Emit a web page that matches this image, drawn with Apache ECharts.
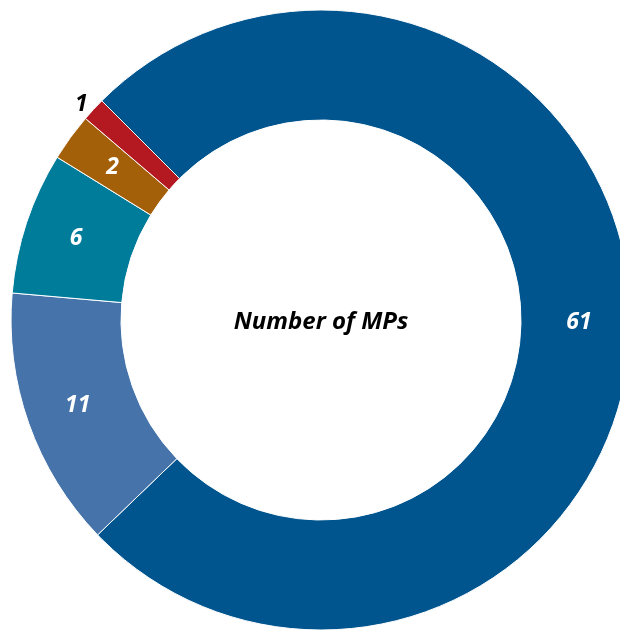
<!DOCTYPE html>
<html>
<head>
<meta charset="utf-8">
<style>
  html, body { margin: 0; padding: 0; background: #ffffff; }
  #chart { width: 620px; height: 633px; }
</style>
<script src="https://cdn.jsdelivr.net/npm/echarts@6/dist/echarts.min.js"></script>
</head>
<body>
<div id="chart"></div>
<script>
// Slices in clockwise order, starting from the large one
const categories = ['Group A', 'Group B', 'Group C', 'Group D', 'Group E'];
const values = [61, 11, 6, 2, 1];
const colors = ['#00558f', '#4674aa', '#007c9b', '#a45f09', '#b41821'];
const centerText = 'Number of MPs';

const fontFamily = '"Open Sans", "Noto Sans", sans-serif';
const ringCenter = [321, 320];

const data = categories.map((name, i) => {
  const item = { name: name, value: values[i], itemStyle: { color: colors[i] } };
  if (values[i] < 2) {
    // the smallest slice carries its number outside the ring
    item.label = { position: 'outside', color: '#000000', distanceToLabelLine: 0 };
    item.labelLine = { show: false, length: 8, length2: 0 };
  }
  return item;
});

const chart = echarts.init(document.getElementById('chart'), null, { renderer: 'canvas' });
chart.setOption({
  animation: false,
  backgroundColor: '#ffffff',
  graphic: [{
    type: 'text',
    x: ringCenter[0],
    y: ringCenter[1] + 2,
    style: {
      text: centerText,
      fill: '#000000',
      font: 'italic bold 24px ' + fontFamily,
      textAlign: 'center',
      textVerticalAlign: 'middle'
    }
  }],
  series: [{
    type: 'pie',
    center: ringCenter,
    radius: [200, 310],
    startAngle: 135,
    clockwise: true,
    avoidLabelOverlap: false,
    itemStyle: { borderColor: '#ffffff', borderWidth: 1 },
    label: {
      show: true,
      position: 'inside',
      formatter: '{c}',
      color: '#ffffff',
      fontFamily: fontFamily,
      fontStyle: 'italic',
      fontWeight: 'bold',
      fontSize: 23
    },
    labelLine: { show: false },
    data: data
  }]
});
</script>
</body>
</html>
